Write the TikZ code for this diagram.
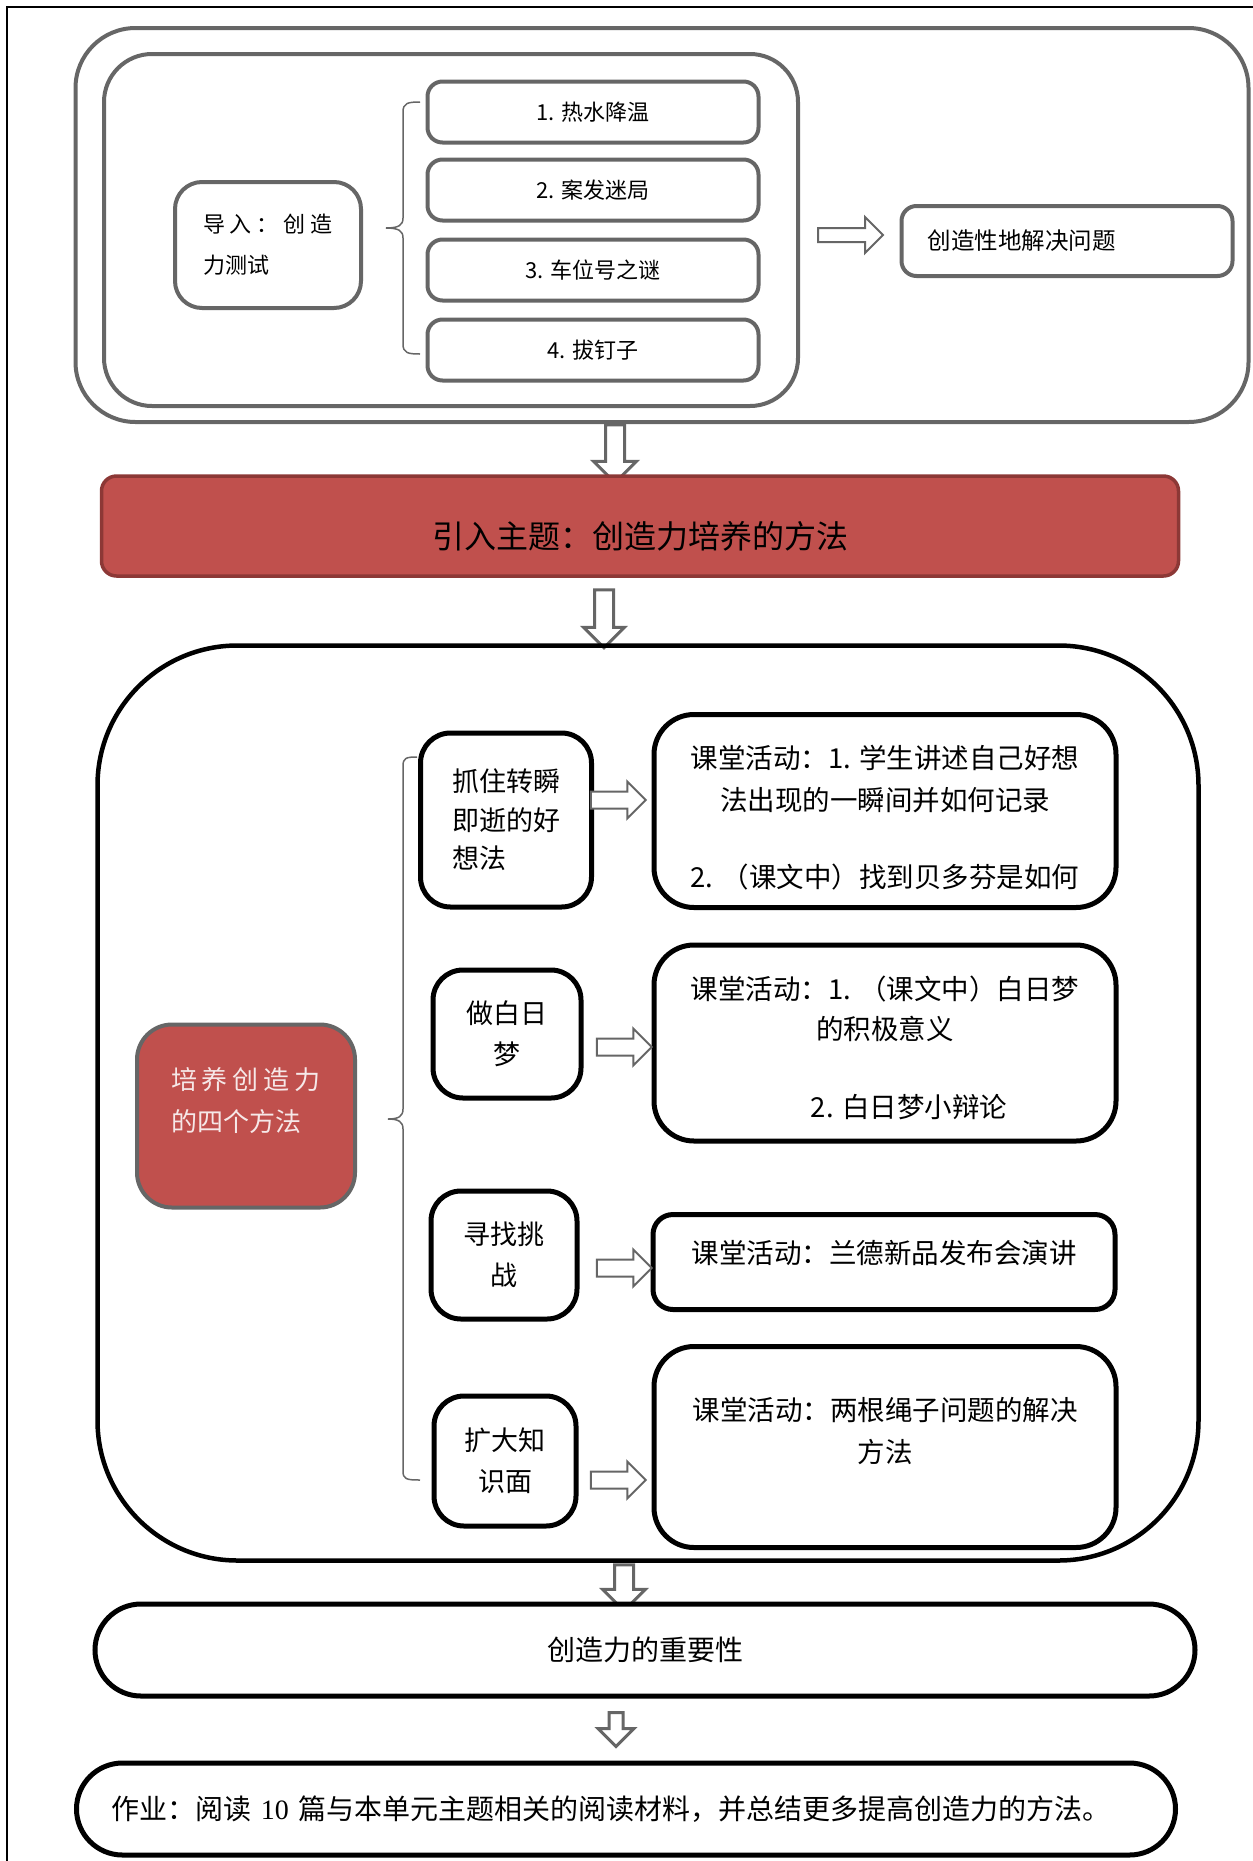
\documentclass[tikz,border=0pt]{standalone}
\usepackage{fontspec}
\setmainfont{Noto Sans CJK SC}
\newfontfamily\numserif{Liberation Serif}
\usetikzlibrary{shapes.arrows}
\definecolor{linegray}{HTML}{666666}
\definecolor{boxred}{HTML}{C0504D}
\definecolor{bardark}{HTML}{8C3836}
\definecolor{palered}{HTML}{F6E8E8}
\newcommand\ls{\hspace{5pt}}
\tikzset{%
  graybox/.style={draw=linegray,line width=4pt,fill=white,inner sep=0pt},
  blackbox/.style={draw=black,line width=5pt,fill=white,inner sep=0pt},
  itembox/.style={graybox,rounded corners=15pt,minimum width=331,minimum height=61,
    font=\fontsize{22}{26}\selectfont},
  waybox/.style={blackbox,rounded corners=30pt,font=\fontsize{27}{41}\selectfont},
  actbox/.style={blackbox,rounded corners=40pt,minimum width=462},
  acttext/.style={align=center,font=\fontsize{27.5}{42}\selectfont},
  pillbox/.style={blackbox,rounded corners=46pt,minimum height=92,
    font=\fontsize{28}{32}\selectfont},
  rarrow/.style={single arrow,draw=linegray,line width=2pt,fill=white,inner sep=7.5pt,
    minimum height=55,minimum width=35,single arrow head extend=10pt},
  darrow/.style={rarrow,shape border rotate=270,line width=3pt},
  bracepen/.style={draw=linegray,line width=1.5pt}
}

\begin{document}
\begin{tikzpicture}[x=1pt,y=-1pt]
	% canvas and page frame
	\useasboundingbox (0,0) rectangle (1253,1861);
	\draw[line width=1.5pt] (7,7) rectangle (1300,1900);

	%% top part: creativity test
	\node[graybox,rounded corners=60pt,minimum width=1173,minimum height=394] (grpout) at (662,225) {};
	\node[graybox,rounded corners=48pt,minimum width=694,minimum height=352] (grpin) at (451,230) {};
	\node[graybox,rounded corners=27pt,minimum width=186,minimum height=126,align=left,
	  font=\fontsize{22}{41}\selectfont] (intro) at (268,245) {导\ls 入\ls ：\ls 创\ls 造\\力测试};
	\foreach \ypos/\txt [count=\i] in {112/1. 热水降温,190/2. 案发迷局,270/3. 车位号之谜,350/4. 拔钉子}
	  \node[itembox] (item\i) at (593,\ypos) {\txt};
	% brace
	\draw[bracepen] (420,102) .. controls (408,102) and (403,103) .. (403,112) -- (403,218)
	  .. controls (403,225) and (399,228) .. (386,228) .. controls (399,228) and (403,231) .. (403,238)
	  -- (403,344) .. controls (403,353) and (408,354) .. (420,354);
	\node[rarrow,minimum height=65,minimum width=34,inner sep=6pt,single arrow head extend=11pt] (arrsolve) at (847,235) {};
	\node[graybox,rounded corners=15pt,minimum width=331,minimum height=70,text width=279,inner xsep=26pt,
	  align=left,font=\fontsize{23.5}{28}\selectfont] (solve) at (1067,241) {创造性地解决问题};

	\node[darrow,minimum height=58,minimum width=40,inner sep=8pt,single arrow head extend=12pt] (down1) at (615,449) {};

	%% topic bar
	\node[draw=bardark,line width=3.5pt,fill=boxred,rounded corners=15pt,minimum width=1077,minimum height=100,
	  label={[name=topictxt,yshift=-10pt,font=\fontsize{32}{36}\selectfont]center:引入主题：创造力培养的方法}] (topic) at (640,526) {};

	\node[darrow,minimum height=58,minimum width=38,inner sep=8pt,single arrow head extend=11pt] (down2) at (604,614) {};

	%% four methods
	\node[draw,line width=4.5pt,rounded corners=140pt,minimum width=1101,minimum height=915] (methods) at (648,1103) {};
	\node[draw=linegray,line width=4pt,fill=boxred,rounded corners=35pt,minimum width=218,minimum height=183,
	  label={[name=fourtxt,yshift=15pt,align=left,text=palered,font=\fontsize{26}{42}\selectfont]center:培\ls 养\ls 创\ls 造\ls 力\\的四个方法}] (four) at (246,1116) {};
	\draw[bracepen] (417,757) .. controls (406,757) and (403,758) .. (403,766) -- (403,1109)
	  .. controls (403,1116) and (399,1119) .. (388,1119) .. controls (399,1119) and (403,1122) .. (403,1129)
	  -- (403,1471) .. controls (403,1479) and (406,1480) .. (420,1480);

	\node[waybox,minimum width=171,minimum height=174,align=left,font=\fontsize{27}{38.5}\selectfont] (way1) at (506,820) {抓住转瞬\\即逝的好\\想法};
	\node[waybox,minimum width=148,minimum height=128,align=center] (way2) at (507,1034) {做白日\\梦};
	\node[waybox,minimum width=146,minimum height=128,align=center] (way3) at (504,1255) {寻找挑\\战};
	\node[waybox,minimum width=142,minimum height=130,align=center] (way4) at (505,1461) {扩大知\\识面};

	\node[actbox,minimum height=193,
	  label={[name=act1txt,acttext,yshift=-7pt]center:课堂活动：1. 学生讲述自己好想\\法出现的一瞬间并如何记录\\[35pt]2. （课文中）找到贝多芬是如何}] (act1) at (885,811) {};
	\node[actbox,minimum height=196,
	  label={[name=act2txt,acttext,yshift=-5pt,font=\fontsize{27.5}{40}\selectfont]center:课堂活动：1. （课文中）白日梦\\的积极意义\\[38pt]\hspace*{48pt}2. 白日梦小辩论}] (act2) at (885,1043) {};
	\node[actbox,minimum height=95,rounded corners=20pt,
	  label={[name=act3txt,acttext,yshift=9pt]center:课堂活动：兰德新品发布会演讲}] (act3) at (884,1262) {};
	\node[actbox,minimum height=201,
	  label={[name=act4txt,acttext,yshift=16pt]center:课堂活动：两根绳子问题的解决\\方法}] (act4) at (885,1447) {};

	\node[rarrow] (arr1) at (614,800) {};
	\node[rarrow] (arr2) at (620,1047) {};
	\node[rarrow] (arr3) at (620,1268) {};
	\node[rarrow] (arr4) at (614,1480) {};

	\node[darrow,minimum height=46,minimum width=40,inner sep=8pt,single arrow head extend=12pt] (down3) at (624,1583) {};

	%% importance and homework
	\node[pillbox,minimum width=1100] (importance) at (645,1650) {创造力的重要性};
	\node[darrow,minimum height=34,minimum width=33,inner sep=5.5pt,single arrow head extend=11pt] (down4) at (616,1726) {};
	\node[pillbox,minimum width=1099,text width=1029,inner xsep=35pt,align=left] (homework) at (626,1809)
	  {作业：阅读 {\numserif 10} 篇与本单元主题相关的阅读材料，并总结更多提高创造力的方法。};
\end{tikzpicture}
\end{document}
